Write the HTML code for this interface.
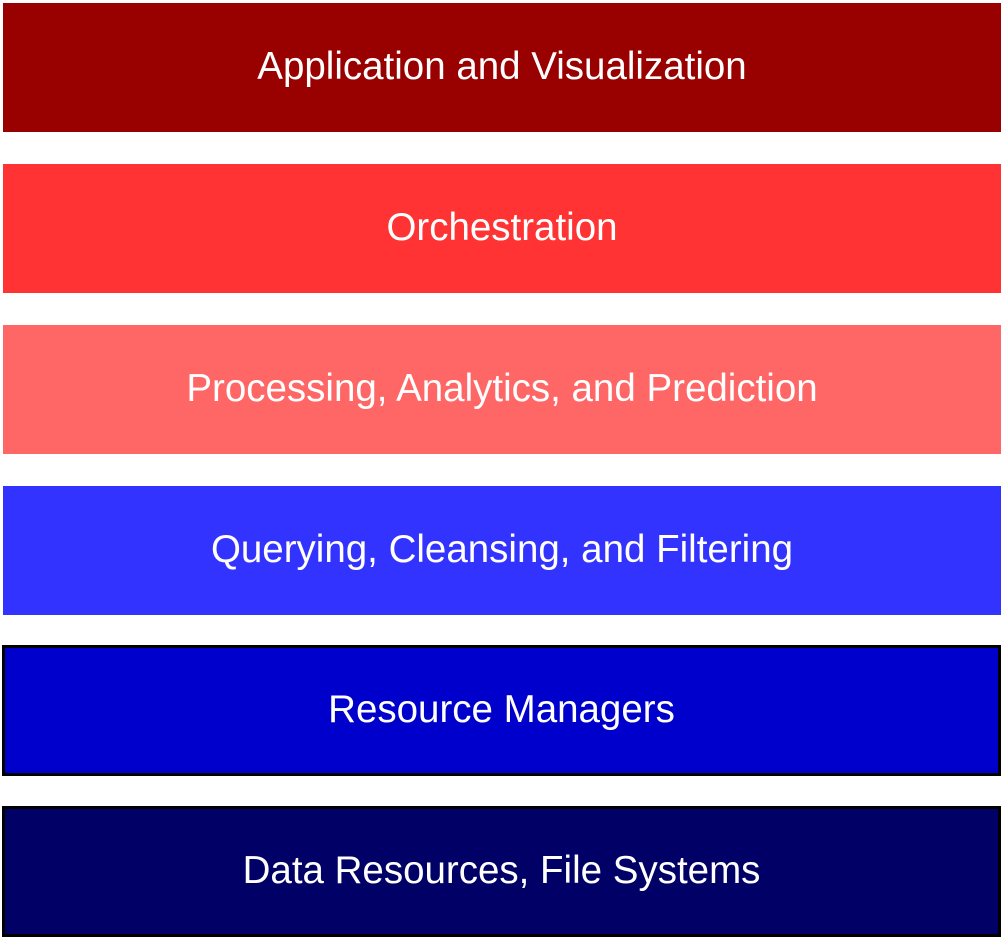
<!DOCTYPE html>
<html><head><style>
body{margin:0;width:1004px;height:940px;background:#fff;position:relative;overflow:hidden;font-family:"Liberation Sans",Arial,sans-serif}
.b{position:absolute;left:3px;width:998px;height:129px;box-sizing:border-box;color:#fff;font-size:38.5px;display:flex;align-items:center;justify-content:center;padding-bottom:2px}
.k{border:3px solid #000;left:2px;width:999px;height:131px}
</style></head><body>
<div class="b" style="top:3px;background:#990000">Application and Visualization</div>
<div class="b" style="top:164px;background:#ff3333">Orchestration</div>
<div class="b" style="top:325px;background:#ff6666">Processing, Analytics, and Prediction</div>
<div class="b" style="top:486px;background:#3333ff">Querying, Cleansing, and Filtering</div>
<div class="b k" style="top:645px;background:#0000cc">Resource Managers</div>
<div class="b k" style="top:806px;background:#000066">Data Resources, File Systems</div>
</body></html>
